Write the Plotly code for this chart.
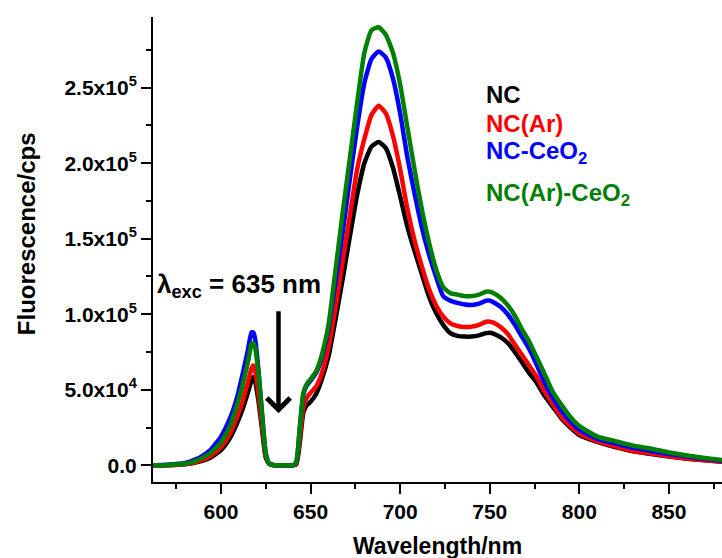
import plotly.graph_objects as go

# Emission wavelength grid (nm)
wavelength = [562, 570, 580, 588, 594, 600, 605, 609, 612, 615, 617, 618, 619, 621, 623, 625, 627,
              630, 635, 640, 642, 644, 646, 648, 650, 653, 656, 660, 664, 668, 672, 676, 680, 684,
              688, 692, 696, 700, 704, 708, 712, 716, 720, 724, 728, 732, 736, 740, 744, 748, 750,
              752, 756, 760, 764, 768, 772, 776, 780, 785, 790, 795, 800, 810, 820, 830, 840, 850,
              860, 870, 880]

# Fluorescence intensities in units of 1e5 cps
nc = [0.0, 0.0, 0.006, 0.025, 0.05, 0.10, 0.18, 0.28, 0.37, 0.48, 0.56, 0.585, 0.56, 0.42, 0.23, 0.05, 0.01,
      0.0, 0.0, 0.0, 0.005, 0.15, 0.35, 0.40, 0.42, 0.47, 0.56, 0.72, 0.97, 1.24, 1.52, 1.79, 2.00, 2.11,
      2.14, 2.10, 1.97, 1.78, 1.58, 1.42, 1.27, 1.12, 1.01, 0.93, 0.875, 0.857, 0.852, 0.852, 0.86, 0.875, 0.878,
      0.872, 0.848, 0.81, 0.75, 0.68, 0.61, 0.55, 0.47, 0.39, 0.31, 0.25, 0.20, 0.155, 0.12, 0.092, 0.075, 0.058,
      0.044, 0.033, 0.023]
nc_ar = [0.0, 0.0, 0.008, 0.03, 0.06, 0.12, 0.21, 0.32, 0.42, 0.55, 0.64, 0.66, 0.63, 0.47, 0.26, 0.06, 0.01,
         0.0, 0.0, 0.0, 0.01, 0.18, 0.39, 0.45, 0.48, 0.52, 0.60, 0.78, 1.05, 1.36, 1.66, 1.96, 2.16, 2.32,
         2.38, 2.33, 2.18, 1.96, 1.70, 1.49, 1.32, 1.17, 1.06, 0.985, 0.94, 0.922, 0.915, 0.918, 0.93, 0.95, 0.951,
         0.945, 0.915, 0.87, 0.80, 0.73, 0.66, 0.59, 0.50, 0.41, 0.32, 0.26, 0.21, 0.16, 0.125, 0.095, 0.078, 0.06,
         0.045, 0.034, 0.024]
nc_ceo2 = [0.0, 0.003, 0.015, 0.05, 0.10, 0.19, 0.31, 0.45, 0.60, 0.76, 0.88, 0.88, 0.84, 0.62, 0.33, 0.08, 0.01,
           0.0, 0.0, 0.0, 0.02, 0.25, 0.47, 0.53, 0.56, 0.61, 0.70, 0.90, 1.22, 1.55, 1.90, 2.24, 2.53, 2.69,
           2.74, 2.70, 2.56, 2.33, 2.04, 1.80, 1.58, 1.40, 1.25, 1.12, 1.09, 1.075, 1.065, 1.062, 1.07, 1.09, 1.09,
           1.08, 1.05, 1.00, 0.93, 0.85, 0.77, 0.67, 0.56, 0.45, 0.36, 0.29, 0.235, 0.175, 0.145, 0.115, 0.095, 0.075,
           0.058, 0.043, 0.03]
nc_ar_ceo2 = [0.0, 0.002, 0.01, 0.04, 0.08, 0.15, 0.26, 0.40, 0.53, 0.68, 0.80, 0.81, 0.78, 0.60, 0.33, 0.08, 0.01,
              0.0, 0.0, 0.0, 0.02, 0.25, 0.48, 0.54, 0.57, 0.62, 0.72, 0.93, 1.30, 1.68, 2.04, 2.40, 2.73, 2.88,
              2.90, 2.85, 2.73, 2.52, 2.24, 1.96, 1.70, 1.48, 1.30, 1.18, 1.14, 1.13, 1.12, 1.12, 1.13, 1.15, 1.15,
              1.14, 1.11, 1.06, 0.99, 0.90, 0.82, 0.72, 0.62, 0.49, 0.40, 0.32, 0.26, 0.19, 0.16, 0.13, 0.11, 0.085,
              0.065, 0.048, 0.035]

series_names = ["NC", "NC(Ar)", "NC-CeO<sub>2</sub>", "NC(Ar)-CeO<sub>2</sub>"]
series_values = [nc, nc_ar, nc_ceo2, nc_ar_ceo2]
series_colors = ["#000000", "#ff0000", "#0000ff", "#008000"]

y_tick_values = [0, 50000, 100000, 150000, 200000, 250000]
y_tick_labels = ["0.0", "5.0x10<sup>4</sup>", "1.0x10<sup>5</sup>", "1.5x10<sup>5</sup>",
                 "2.0x10<sup>5</sup>", "2.5x10<sup>5</sup>"]
x_tick_values = [600, 650, 700, 750, 800, 850]

excitation_nm = 635

FONT = "Liberation Sans, Arial, sans-serif"

fig = go.Figure()
for name, vals, col in zip(series_names, series_values, series_colors):
    fig.add_trace(go.Scatter(
        x=wavelength, y=[v * 1e5 for v in vals], mode="lines", name=name,
        line=dict(color=col, width=4.5, shape="spline", smoothing=0.5),
        showlegend=False,
    ))

# Coloured series labels
label_y = [2.458e5, 2.26e5, 2.071e5, 1.796e5]
for name, col, yv in zip(series_names, series_colors, label_y):
    fig.add_annotation(x=747.0, y=yv, xref="x", yref="y", text=f"<b>{name}</b>",
                       showarrow=False, xanchor="left", yanchor="middle",
                       font=dict(family=FONT, size=24, color=col))

# Excitation marker
fig.add_annotation(x=632.1, y=0.344e5, ax=632.1, ay=1.029e5, xref="x", yref="y",
                   axref="x", ayref="y", text="", showarrow=True,
                   arrowhead=4, arrowwidth=4.5, arrowsize=1, arrowcolor="black")
fig.add_annotation(x=563.2, y=1.19e5, xref="x", yref="y",
                   text=f"<b>λ<sub>exc</sub> = {excitation_nm} nm</b>",
                   showarrow=False, xanchor="left", yanchor="middle",
                   font=dict(family=FONT, size=26, color="black"))

# Axis titles
fig.add_annotation(x=0.5, y=-0.1376, xref="paper", yref="paper",
                   text="<b>Wavelength/nm</b>", showarrow=False,
                   xanchor="center", yanchor="middle",
                   font=dict(family=FONT, size=23, color="black"))
fig.add_annotation(x=-0.2233, y=0.535, xref="paper", yref="paper", text="<b>Fluorescence/cps</b>",
                   showarrow=False, textangle=-90, xanchor="center", yanchor="middle",
                   font=dict(family=FONT, size=24, color="black"))

axis_common = dict(showline=True, linewidth=2, linecolor="black", ticks="outside",
                   ticklen=10, tickwidth=2, tickcolor="black", showgrid=False, zeroline=False,
                   tickfont=dict(family=FONT, size=21, color="black", weight="bold"))

fig.update_layout(
    width=722, height=558,
    margin=dict(l=153, r=0, t=17, b=76),
    paper_bgcolor="white", plot_bgcolor="white",
    xaxis=dict(range=[562.07, 879.6], tickmode="array", tickvals=x_tick_values,
               minor=dict(ticks="outside", ticklen=5, tickwidth=2, tickcolor="black",
                          tick0=575, dtick=50),
               **axis_common),
    yaxis=dict(range=[-1.106e4, 2.968e5], tickmode="array", tickvals=y_tick_values,
               ticktext=y_tick_labels,
               minor=dict(ticks="outside", ticklen=5, tickwidth=2, tickcolor="black",
                          tick0=25000, dtick=50000),
               **axis_common),
)

fig.write_html("out.html")
